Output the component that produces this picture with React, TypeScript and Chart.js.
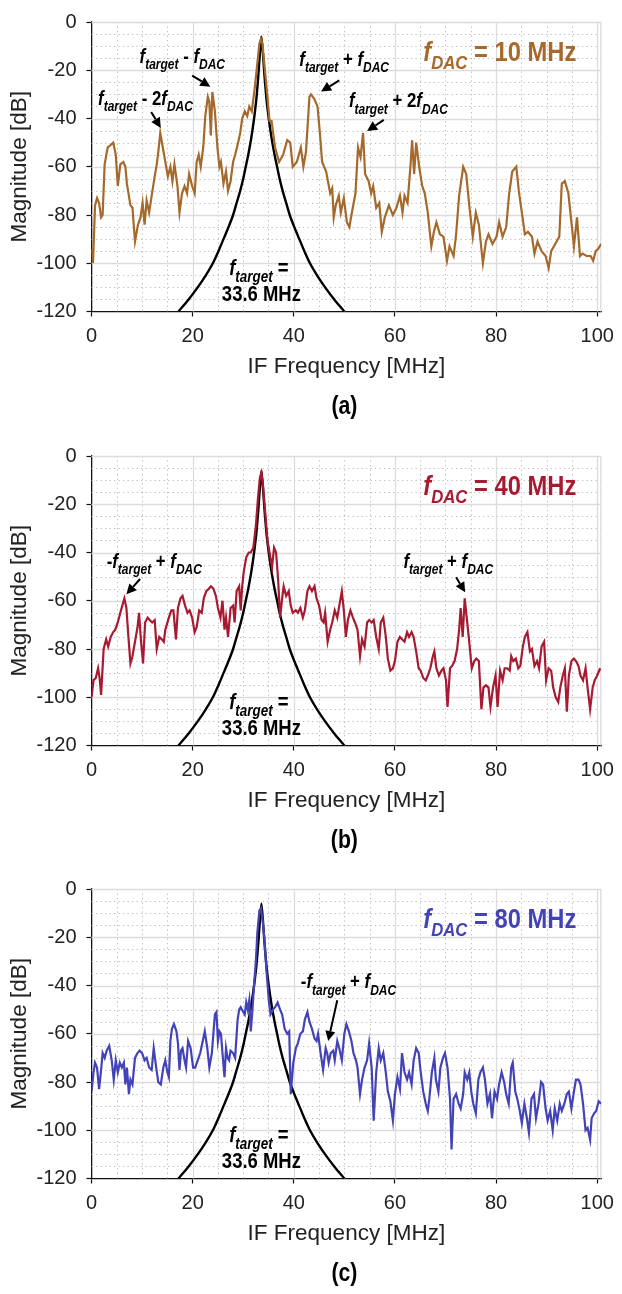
import React, { useEffect, useRef } from 'react';
import { Chart, registerables } from 'chart.js';
Chart.register(...registerables);

const xTicks = [0, 20, 40, 60, 80, 100];
const yTicks = [-120, -100, -80, -60, -40, -20, 0];

// filter response centred at f_target = 33.6 MHz
const targetFreq = [17.2, 19.2, 21.0, 22.6, 24.0, 25.1, 26.1, 27.1, 28.0, 28.7, 29.4, 30.0, 30.5, 31.0, 31.6, 32.15, 32.6, 33.0, 33.3, 33.6, 33.9, 34.2, 34.6, 35.05, 35.6, 36.2, 36.7, 37.2, 37.8, 38.5, 39.2, 40.1, 41.1, 42.1, 43.2, 44.6, 46.2, 48.0, 50.0];
const targetMag = [-120, -115, -110, -105, -100, -95, -90, -85, -80, -75, -70, -65, -60, -55, -48, -40, -32, -22, -13, -6, -13, -22, -32, -40, -48, -55, -60, -65, -70, -75, -80, -85, -90, -95, -100, -105, -110, -115, -120];

const freqA = [0, 0.3, 0.7, 1.1, 1.5, 1.9, 2.2, 2.6, 3.2, 3.8, 4.3, 4.8, 5.2, 5.7, 6.3, 6.7, 7.0, 7.7, 8.1, 8.6, 9.2, 9.7, 10.1, 10.5, 10.9, 11.4, 11.9, 12.5, 12.9, 13.2, 13.6, 14.1, 14.6, 15.1, 15.6, 16.0, 16.4, 17.0, 17.4, 17.9, 18.4, 18.9, 19.3, 19.9, 20.4, 20.8, 21.2, 21.6, 22.1, 22.5, 23.0, 23.3, 23.6, 23.9, 24.4, 24.9, 25.3, 25.6, 26.1, 26.6, 27.0, 27.5, 28.0, 28.4, 29.0, 29.4, 29.8, 30.3, 30.8, 31.2, 31.7, 32.3, 32.8, 33.2, 33.5, 33.8, 34.2, 34.8, 35.2, 35.6, 36.3, 37.1, 37.9, 38.7, 39.3, 39.8, 40.6, 41.4, 41.9, 42.4, 43.1, 43.4, 44.1, 44.7, 45.2, 45.6, 46.4, 47.2, 47.6, 47.9, 48.3, 48.9, 49.3, 49.9, 50.5, 51.0, 51.4, 52.2, 52.7, 53.2, 53.7, 54.1, 54.8, 55.3, 55.7, 56.3, 56.9, 57.4, 58.0, 58.8, 59.6, 60.3, 61.0, 61.5, 61.9, 62.5, 63.1, 63.4, 63.8, 64.2, 64.8, 65.4, 65.9, 66.5, 67.2, 67.7, 68.2, 68.9, 69.6, 70.3, 70.8, 71.6, 72.1, 72.7, 73.5, 74.1, 74.7, 75.4, 76.0, 76.6, 77.4, 78.0, 78.5, 79.3, 80.1, 80.6, 81.3, 82.0, 82.6, 83.2, 84.0, 84.5, 85.1, 85.7, 86.3, 87.1, 87.6, 88.2, 89.0, 89.8, 90.4, 90.9, 91.7, 92.5, 93.0, 93.6, 94.3, 94.8, 95.4, 96.0, 96.6, 97.1, 97.9, 98.7, 99.2, 99.7, 100.2, 100.8];
const magA = [-94, -100, -76, -73, -75, -81, -80, -59, -52, -51, -50, -55, -68, -59, -58, -60, -67, -76, -77, -91, -84, -81, -75, -84, -74, -79, -72, -64, -59, -54, -46, -52, -58, -64, -60, -66, -59, -68, -79, -71, -68, -71, -63, -68, -71, -58, -55, -60, -52, -39, -31, -33, -47, -29, -37, -52, -60, -58, -67, -62, -70, -66, -58, -55, -50, -46, -40, -37, -39, -35, -37, -27, -17, -9, -7, -9, -18, -31, -41, -41, -52, -58, -55, -49, -50, -60, -58, -52, -60, -54, -31, -30, -32, -35, -47, -58, -62, -71, -69, -81, -76, -72, -79, -73, -83, -85, -80, -71, -52, -56, -46, -63, -66, -71, -68, -77, -75, -87, -81, -76, -80, -77, -72, -79, -72, -75, -59, -49, -63, -50, -60, -68, -71, -79, -93, -87, -83, -88, -89, -99, -93, -97, -88, -72, -60, -63, -76, -89, -79, -84, -100, -91, -88, -92, -89, -83, -89, -85, -71, -62, -60, -70, -79, -88, -87, -89, -96, -91, -95, -97, -102, -95, -92, -89, -67, -66, -71, -81, -93, -81, -97, -96, -97, -97, -99, -95, -94, -92];

const freqB = [0, 0.4, 0.85, 1.3, 1.6, 1.9, 2.4, 2.9, 3.3, 3.8, 4.3, 4.7, 5.2, 5.7, 6.1, 6.5, 6.9, 7.3, 7.7, 8.1, 8.6, 9.1, 9.4, 9.8, 10.2, 10.6, 11.1, 11.5, 12.0, 12.5, 12.9, 13.4, 13.9, 14.3, 14.6, 15.3, 15.8, 16.2, 16.7, 17.1, 17.6, 18.0, 18.5, 19.0, 19.4, 19.9, 20.4, 20.8, 21.3, 21.8, 22.2, 22.7, 23.2, 23.6, 24.1, 24.6, 25.0, 25.5, 25.9, 26.3, 26.6, 27.0, 27.5, 28.0, 28.3, 28.7, 29.2, 29.5, 29.8, 30.1, 30.6, 31.1, 31.5, 32.0, 32.5, 32.9, 33.3, 33.6, 33.9, 34.3, 34.8, 35.2, 35.7, 36.1, 36.5, 36.9, 37.3, 37.7, 38.0, 38.5, 39.0, 39.4, 39.8, 40.4, 40.8, 41.3, 41.8, 42.2, 42.7, 43.1, 43.6, 44.1, 44.5, 45.0, 45.5, 45.9, 46.2, 46.7, 47.2, 47.6, 48.1, 48.6, 49.0, 49.5, 49.9, 50.3, 50.7, 51.2, 51.7, 52.1, 52.6, 53.1, 53.5, 54.0, 54.5, 54.9, 55.4, 55.8, 56.3, 56.8, 57.2, 57.7, 58.2, 58.6, 59.1, 59.6, 60.0, 60.5, 61.0, 61.4, 61.9, 62.4, 62.8, 63.3, 63.7, 64.2, 64.7, 65.1, 65.6, 66.1, 66.5, 67.0, 67.5, 67.8, 68.2, 68.7, 69.2, 69.6, 70.1, 70.4, 70.9, 71.3, 71.8, 72.3, 72.7, 73.0, 73.4, 73.8, 74.3, 74.7, 75.2, 75.7, 76.1, 76.6, 77.1, 77.5, 78.0, 78.5, 78.9, 79.4, 79.9, 80.3, 80.8, 81.3, 81.7, 82.2, 82.7, 83.0, 83.4, 83.9, 84.4, 84.8, 85.3, 85.7, 86.2, 86.7, 87.1, 87.6, 88.1, 88.5, 89.0, 89.5, 89.9, 90.4, 90.9, 91.3, 91.8, 92.3, 92.7, 93.2, 93.6, 94.0, 94.4, 94.9, 95.4, 95.8, 96.3, 96.7, 97.2, 97.7, 98.1, 98.6, 99.1, 99.5, 100.0, 100.6];
const magB = [-100, -93, -92, -88, -92, -99, -80, -76, -79, -75, -73, -72, -69, -65, -62, -59, -63, -75, -86, -83, -77, -71, -65, -77, -86, -69, -67, -68, -69, -68, -80, -75, -76, -77, -72, -67, -64, -64, -76, -63, -59, -58, -62, -65, -64, -67, -73, -71, -64, -65, -59, -56, -55, -54, -55, -58, -63, -67, -60, -72, -67, -75, -63, -62, -69, -56, -54, -64, -54, -48, -42, -40, -40, -38, -29, -18, -9, -7, -12, -22, -35, -40, -46, -38, -40, -51, -67, -59, -54, -58, -56, -62, -65, -64, -65, -63, -67, -64, -56, -54, -56, -54, -59, -62, -68, -69, -65, -77, -72, -69, -64, -67, -62, -56, -64, -75, -68, -64, -67, -69, -72, -83, -76, -79, -69, -68, -69, -68, -75, -80, -69, -67, -75, -84, -89, -88, -85, -77, -75, -76, -77, -73, -75, -73, -75, -81, -88, -89, -92, -93, -91, -88, -83, -81, -88, -91, -89, -88, -93, -104, -88, -87, -85, -80, -72, -63, -75, -59, -69, -77, -88, -85, -84, -85, -105, -96, -95, -96, -104, -96, -91, -104, -89, -93, -88, -88, -89, -83, -85, -84, -88, -87, -79, -75, -73, -81, -80, -87, -85, -88, -79, -77, -93, -88, -89, -96, -100, -102, -96, -91, -88, -106, -91, -85, -84, -85, -87, -91, -93, -88, -96, -105, -96, -93, -91, -88];

const freqC = [0, 0.4, 0.7, 1.1, 1.5, 1.9, 2.2, 2.6, 3.0, 3.5, 4.0, 4.4, 4.8, 5.2, 5.6, 6.0, 6.4, 6.7, 7.0, 7.4, 7.7, 8.1, 8.6, 9.1, 9.5, 10.0, 10.5, 10.9, 11.4, 11.9, 12.3, 12.8, 13.2, 13.7, 14.2, 14.6, 15.0, 15.3, 15.6, 15.9, 16.3, 16.8, 17.1, 17.4, 17.7, 18.0, 18.4, 18.7, 19.1, 19.6, 20.1, 20.5, 21.0, 21.5, 21.9, 22.4, 22.9, 23.3, 23.8, 24.1, 24.4, 24.7, 25.0, 25.3, 25.6, 25.9, 26.3, 26.6, 26.9, 27.2, 27.5, 28.0, 28.4, 28.9, 29.2, 29.5, 30.0, 30.3, 30.6, 30.9, 31.2, 31.5, 31.8, 32.1, 32.5, 32.8, 33.2, 33.5, 33.8, 34.2, 34.6, 35.1, 35.4, 35.9, 36.3, 36.8, 37.3, 37.7, 38.2, 38.7, 39.1, 39.4, 39.9, 40.4, 40.8, 41.3, 41.8, 42.2, 42.7, 43.1, 43.6, 44.1, 44.5, 44.8, 45.3, 45.8, 46.3, 46.6, 46.9, 47.3, 47.8, 48.1, 48.6, 49.0, 49.5, 50.0, 50.4, 50.9, 51.4, 51.8, 52.3, 52.6, 53.1, 53.5, 54.0, 54.5, 54.9, 55.4, 55.8, 56.3, 56.8, 57.2, 57.7, 58.2, 58.6, 59.1, 59.6, 60.0, 60.5, 61.0, 61.4, 61.9, 62.4, 62.8, 63.3, 63.7, 64.2, 64.7, 65.1, 65.6, 66.1, 66.5, 66.8, 67.3, 67.8, 68.1, 68.6, 69.0, 69.5, 69.9, 70.4, 70.9, 71.2, 71.6, 72.1, 72.6, 73.0, 73.5, 73.8, 74.3, 74.7, 75.1, 75.5, 76.0, 76.5, 76.9, 77.4, 77.8, 78.3, 78.8, 79.2, 79.7, 80.2, 80.6, 81.1, 81.6, 82.0, 82.5, 83.0, 83.3, 83.8, 84.2, 84.7, 85.1, 85.6, 86.1, 86.5, 87.0, 87.5, 87.9, 88.4, 88.9, 89.3, 89.8, 90.2, 90.7, 91.2, 91.6, 92.1, 92.6, 93.0, 93.5, 94.0, 94.4, 94.9, 95.4, 95.8, 96.3, 96.7, 97.2, 97.7, 98.1, 98.6, 98.9, 99.4, 99.8, 100.3, 100.8];
const magC = [-84, -76, -72, -74, -83, -75, -68, -70, -67, -65, -71, -79, -71, -76, -72, -74, -72, -81, -74, -85, -79, -81, -70, -68, -67, -68, -71, -70, -74, -75, -66, -74, -80, -81, -74, -71, -76, -78, -63, -58, -56, -59, -64, -75, -67, -66, -71, -74, -63, -66, -74, -74, -71, -68, -64, -59, -66, -74, -68, -60, -52, -51, -63, -59, -60, -68, -78, -66, -70, -71, -67, -68, -70, -54, -50, -49, -51, -52, -47, -50, -46, -59, -51, -41, -30, -18, -9, -8, -12, -21, -34, -47, -52, -50, -49, -47, -50, -52, -58, -60, -59, -85, -72, -66, -64, -60, -59, -54, -51, -55, -58, -62, -63, -60, -68, -75, -66, -68, -72, -68, -67, -71, -63, -66, -71, -60, -56, -59, -63, -68, -71, -74, -85, -79, -74, -71, -64, -74, -96, -76, -66, -71, -68, -76, -84, -88, -96, -85, -78, -83, -68, -76, -79, -76, -81, -71, -66, -68, -76, -84, -89, -92, -87, -76, -70, -79, -84, -74, -70, -68, -74, -87, -108, -87, -85, -89, -91, -85, -76, -79, -76, -84, -89, -93, -79, -76, -74, -79, -89, -85, -95, -84, -87, -81, -76, -80, -85, -89, -74, -72, -84, -87, -92, -97, -89, -95, -101, -87, -85, -95, -89, -80, -81, -91, -96, -92, -100, -91, -96, -89, -92, -89, -85, -84, -91, -84, -79, -79, -81, -89, -100, -99, -104, -95, -93, -92, -88, -89];

const FONT = '"Liberation Sans", Arial, Helvetica, sans-serif';

type Seg = { t: string; it?: boolean; sub?: boolean };
const F = (t: string): Seg => ({ t, it: true });
const S = (t: string): Seg => ({ t, it: true, sub: true });
const U = (t: string): Seg => ({ t });

const tgtMinus = [F('f'), S('target'), U(' - '), F('f'), S('DAC')];
const tgtMinus2 = [F('f'), S('target'), U(' - 2'), F('f'), S('DAC')];
const tgtPlus = [F('f'), S('target'), U(' + '), F('f'), S('DAC')];
const tgtPlus2 = [F('f'), S('target'), U(' + 2'), F('f'), S('DAC')];
const negTgtPlus = [U('-'), F('f'), S('target'), U(' + '), F('f'), S('DAC')];

type Note = { segs: Seg[]; at: [number, number]; arrow?: [number, number, number, number] };

const panels = [
  {
    id: 'a', color: '#A5692C', dac: '10', freq: freqA, mag: magA,
    notes: [
      { segs: tgtMinus, at: [9.5, -16.9], arrow: [19.9, -22.2, 23.5, -26.8] },
      { segs: tgtMinus2, at: [1.3, -34.3], arrow: [11.8, -37.3, 13.7, -43.9] },
      { segs: tgtPlus, at: [41.1, -18.2], arrow: [49.0, -24.2, 45.4, -28.8] },
      { segs: tgtPlus2, at: [50.9, -35.4], arrow: [57.8, -40.6, 54.5, -45.2] },
    ] as Note[],
  },
  {
    id: 'b', color: '#A61A32', dac: '40', freq: freqB, mag: magB,
    notes: [
      { segs: negTgtPlus, at: [3.0, -46.4], arrow: [9.6, -51.0, 6.9, -57.3] },
      { segs: tgtPlus, at: [61.7, -46.4], arrow: [72.1, -50.3, 73.9, -56.5] },
    ] as Note[],
  },
  {
    id: 'c', color: '#4343B7', dac: '80', freq: freqC, mag: magC,
    notes: [
      { segs: negTgtPlus, at: [41.4, -41.2], arrow: [48.6, -46.1, 46.8, -63.0] },
    ] as Note[],
  },
];

function segFont(s: Seg, size: number, subSize: number) {
  const sz = s.sub ? subSize : size;
  return `bold ${s.it ? 'italic ' : ''}${sz}px ${FONT}`;
}

function drawRich(ctx: CanvasRenderingContext2D, segs: Seg[], x: number, y: number, size: number, subSize: number, color: string, squeeze: number, align: 'left' | 'center' = 'left') {
  ctx.save();
  ctx.textBaseline = 'alphabetic';
  ctx.textAlign = 'left';
  let total = 0;
  for (const s of segs) { ctx.font = segFont(s, size, subSize); total += ctx.measureText(s.t).width; }
  ctx.translate(x, y);
  ctx.scale(squeeze, 1);
  let cx = align === 'center' ? -total / 2 : 0;
  ctx.fillStyle = color;
  for (const s of segs) {
    ctx.font = segFont(s, size, subSize);
    ctx.fillText(s.t, cx, s.sub ? size * 0.3 : 0);
    cx += ctx.measureText(s.t).width;
  }
  ctx.restore();
}

function arrow(ctx: CanvasRenderingContext2D, x1: number, y1: number, x2: number, y2: number) {
  const a = Math.atan2(y2 - y1, x2 - x1);
  const hl = 10, hw = 5;
  const bx = x2 - hl * Math.cos(a), by = y2 - hl * Math.sin(a);
  ctx.save();
  ctx.strokeStyle = '#000';
  ctx.fillStyle = '#000';
  ctx.lineWidth = 2;
  ctx.beginPath(); ctx.moveTo(x1, y1); ctx.lineTo(bx, by); ctx.stroke();
  ctx.beginPath();
  ctx.moveTo(x2, y2);
  ctx.lineTo(bx + hw * Math.sin(a), by - hw * Math.cos(a));
  ctx.lineTo(bx - hw * Math.sin(a), by + hw * Math.cos(a));
  ctx.closePath(); ctx.fill();
  ctx.restore();
}

const H = 430;
const TOP = 7;
const PLOT_H = 304.5;
const LEFT = 91.5;
const RIGHT_PAD = 15.3;

function Panel({ p, top }: { p: typeof panels[number]; top: number }) {
  const ref = useRef<HTMLCanvasElement>(null);
  useEffect(() => {
    const gridPlugin = {
      id: 'grid' + p.id,
      beforeDatasetsDraw(chart: any) {
        const { ctx, chartArea: { left, right, top: t, bottom }, scales: { x, y } } = chart;
        ctx.save();
        ctx.lineWidth = 1;
        ctx.strokeStyle = '#bdbdbd';
        ctx.setLineDash([1.3, 3.2]);
        for (let v = 5; v <= 100; v += 5) {
          if (v % 20 === 0) continue;
          const px = Math.round(x.getPixelForValue(v)) + 0.5;
          ctx.beginPath(); ctx.moveTo(px, t); ctx.lineTo(px, bottom); ctx.stroke();
        }
        for (let v = -115; v < 0; v += 5) {
          if (v % 20 === 0) continue;
          const py = Math.round(y.getPixelForValue(v)) + 0.5;
          ctx.beginPath(); ctx.moveTo(left, py); ctx.lineTo(right, py); ctx.stroke();
        }
        ctx.setLineDash([]);
        ctx.strokeStyle = '#dcdcdc';
        ctx.lineWidth = 1.3;
        for (const v of xTicks) {
          if (v === 0) continue;
          const px = Math.round(x.getPixelForValue(v)) + 0.5;
          ctx.beginPath(); ctx.moveTo(px, t); ctx.lineTo(px, bottom); ctx.stroke();
        }
        for (const v of yTicks) {
          if (v === -120) continue;
          const py = Math.round(y.getPixelForValue(v)) + 0.5;
          ctx.beginPath(); ctx.moveTo(left, py); ctx.lineTo(right, py); ctx.stroke();
        }
        ctx.beginPath(); ctx.moveTo(right - 0.5, t); ctx.lineTo(right - 0.5, bottom); ctx.stroke();
        ctx.restore();
      },
    };
    const textPlugin = {
      id: 'text' + p.id,
      afterDraw(chart: any) {
        const { ctx, chartArea: { left, right, top: t, bottom }, scales: { x, y } } = chart;
        const mid = (left + right) / 2;
        ctx.save();
        ctx.fillStyle = '#222';
        ctx.font = `22.5px ${FONT}`;
        ctx.textAlign = 'center';
        ctx.textBaseline = 'middle';
        ctx.fillText('IF Frequency [MHz]', mid, bottom + 55);
        ctx.save();
        ctx.translate(20, (t + bottom) / 2);
        ctx.rotate(-Math.PI / 2);
        ctx.fillText('Magnitude [dB]', 0, 0);
        ctx.restore();
        ctx.restore();
        drawRich(ctx, [U(`(${p.id})`)], mid - 2, bottom + 102, 25, 25, '#000', 0.85, 'center');
        // f_DAC label
        drawRich(ctx, [F('f'), S('DAC'), U(` = ${p.dac} MHz`)], x.getPixelForValue(65.6), y.getPixelForValue(-16.3), 27, 19, p.color, 0.88);
        // f_target label
        drawRich(ctx, [F('f'), S('target'), U(' =')], x.getPixelForValue(33.1), y.getPixelForValue(-104.9), 22, 16, '#000', 0.84, 'center');
        drawRich(ctx, [U('33.6 MHz')], x.getPixelForValue(33.6), y.getPixelForValue(-115.5), 22, 22, '#000', 0.84, 'center');
        for (const n of p.notes) {
          drawRich(ctx, n.segs, x.getPixelForValue(n.at[0]), y.getPixelForValue(n.at[1]), 21, 15, '#000', 0.8);
          if (n.arrow) {
            const [a, b, c, d] = n.arrow;
            arrow(ctx, x.getPixelForValue(a), y.getPixelForValue(b), x.getPixelForValue(c), y.getPixelForValue(d));
          }
        }
      },
    };
    const chart = new Chart(ref.current!, {
      type: 'line',
      data: {
        datasets: [
          {
            data: p.freq.map((f, i) => ({ x: f, y: p.mag[i] })),
            borderColor: p.color, borderWidth: 2.2, pointRadius: 0, tension: 0, order: 1,
          },
          {
            data: targetFreq.map((f, i) => ({ x: f, y: targetMag[i] })),
            borderColor: '#000', borderWidth: 2.4, pointRadius: 0, tension: 0.2, order: 2,
          },
        ],
      },
      options: {
        animation: false,
        responsive: false,
        maintainAspectRatio: false,
        devicePixelRatio: 1,
        layout: { padding: { left: 0, top: TOP, right: RIGHT_PAD, bottom: 0 } },
        plugins: { legend: { display: false }, tooltip: { enabled: false } },
        scales: {
          x: {
            type: 'linear', min: 0, max: 100.8,
            afterBuildTicks: (s: any) => { s.ticks = xTicks.map((v) => ({ value: v })); },
            afterFit: (s: any) => { s.height = H - TOP - PLOT_H; },
            ticks: { font: { family: FONT, size: 20 }, color: '#222', padding: 8, maxRotation: 0, autoSkip: false },
            grid: { drawOnChartArea: false, drawTicks: true, tickLength: 5, tickColor: '#111', tickWidth: 1.2 },
            border: { color: '#111', width: 1.3 },
          },
          y: {
            type: 'linear', min: -120, max: 0,
            afterBuildTicks: (s: any) => { s.ticks = yTicks.map((v) => ({ value: v })); },
            afterFit: (s: any) => { s.width = LEFT; },
            ticks: { font: { family: FONT, size: 20 }, color: '#222', padding: 10 },
            grid: { drawOnChartArea: false, drawTicks: true, tickLength: 5, tickColor: '#111', tickWidth: 1.2 },
            border: { color: '#111', width: 1.3 },
          },
        },
      },
      plugins: [gridPlugin, textPlugin],
    } as any);
    return () => chart.destroy();
  }, []);
  return (
    <canvas ref={ref} width={622} height={H} style={{ position: 'absolute', left: 0, top, width: 622, height: H }} />
  );
}

export default function App() {
  return (
    <div style={{ position: 'fixed', left: 0, top: 0, width: 622, height: 1294, overflow: 'hidden', background: '#fff' }}>
      {panels.map((p, i) => (
        <Panel key={p.id} p={p} top={[0, 434, 867][i]} />
      ))}
    </div>
  );
}
